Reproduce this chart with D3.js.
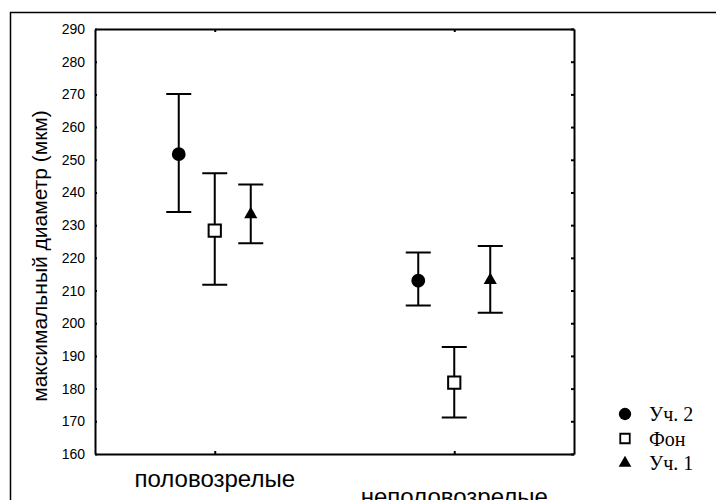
<!DOCTYPE html>
<html>
<head>
<meta charset="utf-8">
<script src="https://cdn.jsdelivr.net/npm/d3@7"></script>
<style>
  body { margin: 0; background: #fff; }
  text { font-family: Arial, "Liberation Sans", sans-serif; }
</style>
</head>
<body>
<svg width="716" height="500"></svg>
<script>
const svg = d3.select('svg')

const categories = ['половозрелые', 'неполовозрелые']
const seriesNames = ['Уч. 2', 'Фон', 'Уч. 1']
const means = {
    'Уч. 2': [251.7, 213.0],
    'Фон':   [228.3, 181.8],
    'Уч. 1': [233.3, 213.2]
}
const upper = {
    'Уч. 2': [270.1, 221.6],
    'Фон':   [245.9, 192.7],
    'Уч. 1': [242.4, 223.6]
}
const lower = {
    'Уч. 2': [234.0, 205.4],
    'Фон':   [211.8, 171.2],
    'Уч. 1': [224.5, 203.2]
}
const yTicks = d3.range(160, 291, 10)

const m = { left: 95, top: 29, right: 574, bottom: 454 }

// outer frame
svg.append('path')
    .attr('d', 'M10.5,500 V12.5 H716')
    .attr('fill', 'none')
    .attr('stroke', '#000')
    .attr('stroke-width', 1.5)

const y = d3.scaleLinear().domain([160, 290]).range([m.bottom, m.top])
const x = d3.scalePoint().domain(categories).range([m.left, m.right]).padding(0.5)
const offset = d3.scalePoint().domain(seriesNames).range([-36, 36])

// axes with tiny inner ticks
svg.append('g')
    .attr('transform', `translate(${m.left},0)`)
    .call(d3.axisLeft(y).tickValues(yTicks).tickSizeInner(-2).tickSizeOuter(0).tickPadding(10))
    .call(g => g.selectAll('text').attr('font-size', 14).attr('fill', '#000'))
svg.append('g')
    .attr('transform', `translate(${m.right},0)`)
    .call(d3.axisRight(y).tickValues(yTicks).tickSizeInner(-3).tickSizeOuter(0).tickFormat(''))
svg.append('g')
    .attr('transform', `translate(0,${m.bottom})`)
    .call(d3.axisBottom(x).tickSizeInner(-3).tickSizeOuter(0).tickFormat(''))
svg.append('g')
    .attr('transform', `translate(0,${m.top})`)
    .call(d3.axisTop(x).tickSizeInner(-3).tickSizeOuter(0).tickFormat(''))
svg.selectAll('.domain').attr('stroke-width', 2)
svg.selectAll('.tick line').attr('stroke-width', 2)

// category labels, staggered
svg.selectAll('.cat')
    .data(categories)
    .join('text')
        .attr('x', d => x(d))
        .attr('y', (d, i) => i === 0 ? 487 : 505)
        .attr('text-anchor', 'middle')
        .attr('font-size', 24)
        .text(d => d)

svg.append('text')
    .attr('transform', `translate(47,256) rotate(-90)`)
    .attr('text-anchor', 'middle')
    .attr('font-size', 21)
    .text('максимальный диаметр (мкм)')

const symbols = {
    'Уч. 2': { type: d3.symbolCircle, size: 150, fill: '#000' },
    'Фон':   { type: d3.symbolSquare, size: 150, fill: '#fff' },
    'Уч. 1': { type: d3.symbolTriangle, size: 75, fill: '#000' }
}

const capW = 12.5
seriesNames.forEach(s => {
    const g = svg.append('g')
    const pts = categories.map((c, i) => ({
        cx: x(c) + offset(s),
        m: means[s][i], hi: upper[s][i], lo: lower[s][i]
    }))
    g.selectAll('.whisker').data(pts).join('path')
        .attr('d', d => `M${d.cx},${y(d.hi)} V${y(d.lo)} M${d.cx - capW},${y(d.hi)} H${d.cx + capW} M${d.cx - capW},${y(d.lo)} H${d.cx + capW}`)
        .attr('stroke', '#000')
        .attr('stroke-width', 2)
        .attr('fill', 'none')
    g.selectAll('.pt').data(pts).join('path')
        .attr('transform', d => `translate(${d.cx},${y(d.m)})`)
        .attr('d', d3.symbol().type(symbols[s].type).size(symbols[s].size))
        .attr('fill', symbols[s].fill)
        .attr('stroke', '#000')
        .attr('stroke-width', s === 'Фон' ? 2 : 0)
})

// legend
const legend = svg.append('g').attr('transform', 'translate(625,414)')
const items = legend.selectAll('g')
    .data(seriesNames)
    .join('g')
        .attr('transform', (d, i) => `translate(0,${i * 24.5})`)
items.append('path')
    .attr('d', d => d3.symbol().type(symbols[d].type).size(d === 'Уч. 2' ? 120 : d === 'Фон' ? 90 : 70)())
    .attr('fill', d => symbols[d].fill)
    .attr('stroke', '#000')
    .attr('stroke-width', d => d === 'Фон' ? 1.8 : 0)
items.append('text')
    .attr('x', 24)
    .attr('dy', '0.35em')
    .attr('font-size', 20)
    .style('font-family', '"Times New Roman", "Liberation Serif", serif')
    .text(d => d)
</script>
</body>
</html>
